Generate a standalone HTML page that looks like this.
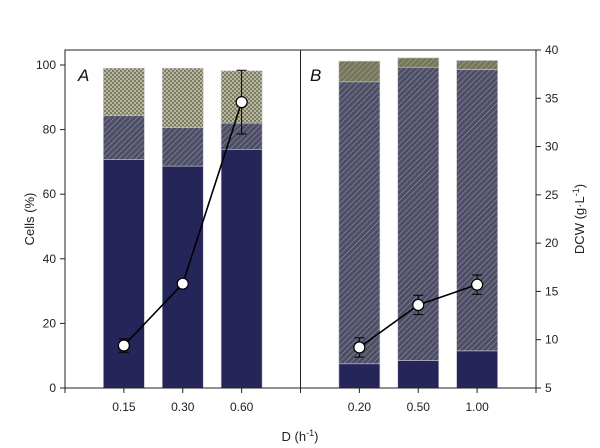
<!DOCTYPE html>
<html><head><meta charset="utf-8"><style>
body{margin:0;background:#fff}
svg{display:block;font-family:"Liberation Sans",Arial,sans-serif}
</style></head><body>
<svg id="chart" width="600" height="448" viewBox="0 0 600 448">
<defs>
<pattern id="hatch" width="4" height="4" patternUnits="userSpaceOnUse" patternTransform="rotate(45)">
<rect width="4" height="4" fill="#4e4e66"/><line x1="0" y1="0" x2="0" y2="4" stroke="#9a9aae" stroke-width="1"/></pattern>
<pattern id="cross" width="4" height="4" patternUnits="userSpaceOnUse">
<rect width="4" height="4" fill="#7c7c62"/><rect x="0" y="0" width="2" height="2" fill="#b8b8a0"/><rect x="2" y="2" width="2" height="2" fill="#b8b8a0"/></pattern>
<pattern id="hatch2" width="4" height="4" patternUnits="userSpaceOnUse" patternTransform="rotate(45)">
<rect width="4" height="4" fill="#76765a"/><line x1="0" y1="0" x2="0" y2="4" stroke="#b0b09a" stroke-width="1"/></pattern>
</defs>
<g id="plot"></g>
</svg>
<script>
const categories=["0.15","0.30","0.60","0.20","0.50","1.00"];
const navyVals=[70.7,68.7,73.9,7.5,8.5,11.5];
const hatchTop=[84.3,80.6,82.0,94.8,99.3,98.6];
const totalTop=[99.0,99.0,98.2,101.2,102.2,101.4];
const dcwVals=[9.4,15.8,34.6,9.2,13.6,15.7];
const dcwErr=[0.7,0.3,3.3,1.0,1.0,1.0];
const leftTicks=[0,20,40,60,80,100];
const rightTicks=[5,10,15,20,25,30,35,40];
const slots=[1,2,3,5,6,7];

const NS="http://www.w3.org/2000/svg";
const g=document.getElementById('plot');
const X0=65,X1=536,YT=50,YB=388;
const slotW=(X1-X0)/8;
const xs=i=>X0+slots[i]*slotW;
const yL=v=>YB-v*3.23;
const yR=v=>YB-(v-5)*(YB-YT)/35;
function el(t,a,txt){const e=document.createElementNS(NS,t);for(const k in a)e.setAttribute(k,a[k]);if(txt!=null)e.textContent=txt;g.appendChild(e);return e;}
const bw=41;
categories.forEach((c,i)=>{
  const x=xs(i)-bw/2;
  let r=el('rect',{x:x,y:yL(navyVals[i]),width:bw,height:YB-yL(navyVals[i]),fill:'#25255a',stroke:'#c8c8d0','stroke-width':0.6});
  
  
  r=el('rect',{x:x,y:yL(hatchTop[i]),width:bw,height:yL(navyVals[i])-yL(hatchTop[i]),fill:'url(#hatch)',stroke:'#c8c8d0','stroke-width':0.6});
  
  
  r=el('rect',{x:x,y:yL(totalTop[i]),width:bw,height:yL(hatchTop[i])-yL(totalTop[i]),fill:i<3?'url(#cross)':'url(#hatch2)',stroke:'#c8c8d0','stroke-width':0.6});
  
  
});
// axes
let a=el('rect',{x:X0,y:YT,width:X1-X0,height:YB-YT,fill:'none',stroke:'#222','stroke-width':1});


a=el('line',{x1:X0+4*slotW,y1:YT,x2:X0+4*slotW,y2:YB,stroke:'#222','stroke-width':1});


leftTicks.forEach(v=>{
  el('line',{x1:X0-5,x2:X0,y1:yL(v),y2:yL(v),stroke:'#222'});
  const t=el('text',{x:X0-9,y:yL(v)+4,'text-anchor':'end','font-size':12,fill:'#222'},v);
  
  
});
rightTicks.forEach(v=>{
  el('line',{x1:X1,x2:X1+5,y1:yR(v),y2:yR(v),stroke:'#222'});
  const t=el('text',{x:X1+9,y:yR(v)+4,'font-size':12,fill:'#222'},v);
  
  
});
for(let k=0;k<=8;k++)el('line',{x1:X0+k*slotW,x2:X0+k*slotW,y1:YB,y2:YB+5,stroke:'#222'});
categories.forEach((c,i)=>{
  const t=el('text',{x:xs(i),y:411,'text-anchor':'middle','font-size':12,fill:'#222'},c);
  
  
});
// lines
[[0,1,2],[3,4,5]].forEach((grp,gi)=>{
  const p=el('polyline',{points:grp.map(i=>xs(i)+','+yR(dcwVals[i])).join(' '),fill:'none',stroke:'#000','stroke-width':1.6});
  
  
});
categories.forEach((c,i)=>{
  const x=xs(i),t=yR(dcwVals[i]+dcwErr[i]),b=yR(dcwVals[i]-dcwErr[i]);
  el('line',{x1:x,x2:x,y1:t,y2:b,stroke:'#000'});
  el('line',{x1:x-5,x2:x+5,y1:t,y2:t,stroke:'#000'});
  el('line',{x1:x-5,x2:x+5,y1:b,y2:b,stroke:'#000'});
  const pt=el('circle',{cx:x,cy:yR(dcwVals[i]),r:5.5,fill:'#fff',stroke:'#000','stroke-width':1.2});
  
  
});
let t=el('text',{x:78,y:81,'font-size':17,'font-style':'italic',fill:'#111'},'A');

t=el('text',{x:310,y:81,'font-size':17,'font-style':'italic',fill:'#111'},'B');

t=el('text',{x:34,y:219,'text-anchor':'middle','font-size':13,fill:'#222',transform:'rotate(-90 34 219)'},'Cells (%)');

t=el('text',{x:584,y:219,'text-anchor':'middle','font-size':13,fill:'#222',transform:'rotate(-90 584 219)'});
t.innerHTML='DCW (g·L<tspan dy="-5" font-size="9">-1</tspan><tspan dy="5">)</tspan>';

t=el('text',{x:300,y:441,'text-anchor':'middle','font-size':13,fill:'#222'});
t.innerHTML='D (h<tspan dy="-5" font-size="9">-1</tspan><tspan dy="5">)</tspan>';

</script>
</body></html>
